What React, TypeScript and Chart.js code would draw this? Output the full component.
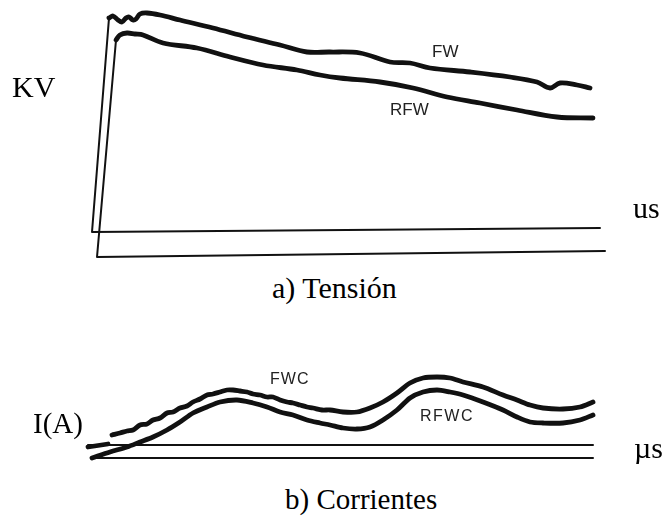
import React, { useEffect, useRef } from "react";
import { Chart, registerables } from "chart.js";

Chart.register(...registerables);

// ---------- a) Tensión (time in µs, voltage in kV) ----------
const fwAxisT = [101.6, 0, 3.4];
const fwAxisKV = [11.6, 10, 95.6];
const fwT = [3.4, 4.2, 5.2, 6.0, 6.8, 7.4, 8.2, 8.8, 9.6, 11.0, 13.6, 17.6, 24.2, 31.0, 37.6, 43.0, 47.6, 53.6, 59.6, 63.6, 67.6, 75.6, 83.6, 89.0, 91.6, 93.6, 97.0, 99.6];
const fwKV = [95.6, 96.4, 94.8, 94.0, 95.6, 96.0, 94.8, 95.2, 97.2, 97.6, 96.8, 94.8, 91.6, 88.0, 84.8, 82.0, 82.0, 81.6, 78.0, 77.6, 75.6, 74.0, 72.0, 70.0, 67.6, 69.6, 68.8, 67.6];
const rfwAxisT = [102.6, 1.0, 4.8];
const rfwAxisKV = [2.4, 0, 86.8];
const rfwT = [4.8, 5.6, 7.0, 8.6, 10.2, 14.2, 21.0, 27.6, 34.2, 41.0, 45.6, 49.6, 57.6, 64.2, 71.0, 77.6, 85.0, 93.0, 100.2];
const rfwKV = [86.8, 88.8, 89.6, 89.2, 88.8, 85.6, 83.6, 80.0, 76.8, 74.8, 72.8, 71.6, 70.0, 67.6, 64.0, 61.6, 58.8, 56.0, 55.6];

// ---------- b) Corrientes (time in µs, current in A) ----------
const upperAxisT = [0, 101];
const upperAxisA = [6.5, 6.5];
const lowerAxisT = [0.8, 101];
const lowerAxisA = [0, 0];
const fwcT = [0, 4.0, 4.4, 4.8, 6.4, 7.8, 9.0, 10.4, 11.8, 13.0, 14.4, 15.8, 17.0, 18.4, 19.8, 21.0, 22.4, 23.8, 25.0, 26.4, 27.8, 29.0, 30.4, 31.8, 33.0, 34.4, 35.8, 37.0, 38.4, 39.8, 41.0, 42.4, 43.8, 45.0, 46.8, 48.4, 51.0, 53.8, 56.4, 59.0, 61.8, 64.4, 67.0, 69.8, 72.4, 75.0, 79.0, 83.0, 85.8, 88.4, 91.0, 95.0, 98.4, 101.0];
const fwcA: (number | null)[] = [5.5, 7.0, null, 11.5, 12.5, 13.5, 14.0, 16.5, 17.0, 19.0, 20.0, 22.5, 23.0, 25.0, 26.0, 28.0, 29.5, 31.5, 32.0, 33.0, 34.0, 34.0, 33.5, 33.0, 32.0, 31.5, 30.5, 30.5, 29.0, 28.0, 27.5, 26.5, 25.5, 25.0, 24.0, 24.0, 23.0, 23.0, 25.0, 28.0, 32.5, 37.5, 40.0, 40.5, 40.0, 38.0, 35.5, 31.5, 29.0, 26.5, 25.0, 24.5, 25.5, 28.0];
const rfwcT = [0.8, 4.4, 7.8, 10.4, 13.0, 15.8, 18.4, 21.0, 23.8, 26.4, 29.8, 33.0, 35.8, 38.4, 41.0, 43.8, 46.4, 48.4, 51.0, 53.8, 56.4, 59.0, 61.8, 64.4, 67.0, 69.8, 72.4, 75.0, 79.0, 83.0, 85.8, 88.4, 91.0, 95.0, 98.4, 101.0];
const rfwcA = [0, 3.0, 5.5, 8.0, 10.5, 14.0, 18.0, 22.5, 25.5, 28.0, 29.0, 27.5, 25.5, 23.0, 21.5, 19.0, 17.5, 16.5, 15.0, 14.5, 15.5, 19.0, 24.0, 30.0, 33.0, 34.0, 33.0, 31.5, 28.0, 24.0, 20.5, 18.0, 17.5, 17.5, 19.0, 21.5];

const INK = "#111111";
const SERIF = '"Liberation Serif", "Times New Roman", serif';
const SANS = '"Liberation Sans", Arial, sans-serif';

const pts = (xs: number[], ys: (number | null)[]) => xs.map((x, i) => ({ x, y: ys[i] }));

function line(data: any[], width: number, tension: number) {
  return {
    data,
    borderColor: INK,
    borderWidth: width,
    pointRadius: 0,
    tension,
    fill: false,
    borderCapStyle: "round",
    borderJoinStyle: "round",
    spanGaps: false,
    clip: false,
  };
}

function makeOptions(xMin: number, xMax: number, yMin: number, yMax: number) {
  return {
    animation: false,
    responsive: false,
    events: [],
    layout: { padding: 0 },
    plugins: { legend: { display: false }, tooltip: { enabled: false }, title: { display: false } },
    scales: {
      x: { type: "linear", display: false, min: xMin, max: xMax },
      y: { type: "linear", display: false, min: yMin, max: yMax },
    },
  } as any;
}

function useChart(ref: React.RefObject<HTMLCanvasElement>, datasets: any[], opts: any) {
  useEffect(() => {
    if (!ref.current) return;
    const chart = new Chart(ref.current, { type: "line", data: { datasets }, options: opts });
    return () => chart.destroy();
  }, []);
}

function Label(props: { text: string; left: number; top: number; size: number; sans?: boolean; spacing?: number }) {
  return (
    <div
      style={{
        position: "absolute",
        left: props.left,
        top: props.top,
        fontSize: props.size,
        lineHeight: 1,
        fontFamily: props.sans ? SANS : SERIF,
        color: props.sans ? "#222" : "#000",
        whiteSpace: "nowrap",
        letterSpacing: props.spacing ?? 0,
      }}
    >
      {props.text}
    </div>
  );
}

export default function App() {
  const topRef = useRef<HTMLCanvasElement>(null);
  const botRef = useRef<HTMLCanvasElement>(null);

  useChart(
    topRef,
    [
      line(pts(fwAxisT, fwAxisKV), 2, 0),
      line(pts(fwT, fwKV), 4.8, 0.35),
      line(pts(rfwAxisT, rfwAxisKV), 2, 0),
      line(pts(rfwT, rfwKV), 4.8, 0.35),
    ],
    makeOptions(-18.4, 114.2, -5.2, 102.8)
  );

  useChart(
    botRef,
    [
      line(pts(upperAxisT, upperAxisA), 2, 0),
      line(pts(lowerAxisT, lowerAxisA), 2, 0),
      line(pts(fwcT, fwcA), 4.8, 0.3),
      line(pts(rfwcT, rfwcA), 4.8, 0.3),
    ],
    makeOptions(-17.6, 115, -6, 49)
  );

  return (
    <div style={{ position: "absolute", left: 0, top: 0, width: 663, height: 516, background: "#fff", overflow: "hidden" }}>
      <canvas ref={topRef} width={663} height={270} style={{ position: "absolute", left: 0, top: 0, width: 663, height: 270 }} />
      <canvas ref={botRef} width={663} height={110} style={{ position: "absolute", left: 0, top: 360, width: 663, height: 110 }} />
      <Label text="KV" left={12} top={72} size={30} />
      <Label text="us" left={633} top={193} size={30} />
      <Label text="a) Tensión" left={272} top={273} size={30} />
      <Label text="FW" left={432} top={43} size={17} sans />
      <Label text="RFW" left={390} top={101} size={17} sans />
      <Label text="I(A)" left={33} top={409} size={29} />
      <Label text="µs" left={634} top={433} size={30} />
      <Label text="b) Corrientes" left={285} top={485} size={29} />
      <Label text="FWC" left={270} top={371} size={16} sans spacing={1} />
      <Label text="RFWC" left={420} top={408} size={16} sans spacing={1.5} />
    </div>
  );
}
